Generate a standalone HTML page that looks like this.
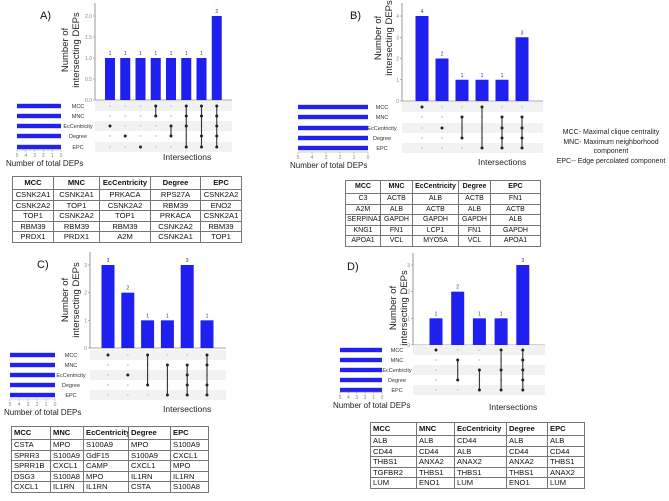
<!DOCTYPE html>
<html><head><meta charset="utf-8">
<style>
body{margin:0;background:#fff;width:669px;height:501px;overflow:hidden;position:relative;font-family:"Liberation Sans",sans-serif}
svg{position:absolute;left:0;top:0}
table.t{position:absolute;border-collapse:collapse;font-family:"Liberation Sans",sans-serif;font-size:7.6px;color:#111;table-layout:fixed}
table.t td{border:1px solid #777;padding:0 1px;white-space:nowrap;overflow:hidden;line-height:9.6px;height:9.6px}
table.t tr:first-child td{font-weight:bold;height:12px}
table.c td{text-align:center}
table.l td{text-align:left;padding-left:2px}
</style></head>
<body>
<svg id="fig" width="669" height="501" viewBox="0 0 669 501"></svg>

<table class="t c" style="left:12px;top:176px;width:229px">
<colgroup><col style="width:41px"><col style="width:46px"><col style="width:51px"><col style="width:50px"><col style="width:41px"></colgroup>
<tr><td>MCC</td><td>MNC</td><td>EcCentricity</td><td>Degree</td><td>EPC</td></tr>
<tr><td>CSNK2A1</td><td>CSNK2A1</td><td>PRKACA</td><td>RPS27A</td><td>CSNK2A2</td></tr>
<tr><td>CSNK2A2</td><td>TOP1</td><td>CSNK2A2</td><td>RBM39</td><td>ENO2</td></tr>
<tr><td>TOP1</td><td>CSNK2A2</td><td>TOP1</td><td>PRKACA</td><td>CSNK2A1</td></tr>
<tr><td>RBM39</td><td>RBM39</td><td>RBM39</td><td>CSNK2A2</td><td>RBM39</td></tr>
<tr><td>PRDX1</td><td>PRDX1</td><td>A2M</td><td>CSNK2A1</td><td>TOP1</td></tr>
</table>

<table class="t c" style="left:345px;top:180px;width:195px;font-size:7px">
<colgroup><col style="width:35px"><col style="width:32px"><col style="width:46px"><col style="width:32px"><col style="width:50px"></colgroup>
<tr><td>MCC</td><td>MNC</td><td>EcCentricity</td><td>Degree</td><td>EPC</td></tr>
<tr><td>C3</td><td>ACTB</td><td>ALB</td><td>ACTB</td><td>FN1</td></tr>
<tr><td>A2M</td><td>ALB</td><td>ACTB</td><td>ALB</td><td>ACTB</td></tr>
<tr><td>SERPINA1</td><td>GAPDH</td><td>GAPDH</td><td>GAPDH</td><td>ALB</td></tr>
<tr><td>KNG1</td><td>FN1</td><td>LCP1</td><td>FN1</td><td>GAPDH</td></tr>
<tr><td>APOA1</td><td>VCL</td><td>MYO5A</td><td>VCL</td><td>APOA1</td></tr>
</table>

<table class="t l" style="left:11px;top:426px;width:197px">
<colgroup><col style="width:39px"><col style="width:33px"><col style="width:45px"><col style="width:42px"><col style="width:38px"></colgroup>
<tr><td>MCC</td><td>MNC</td><td>EcCentricity</td><td>Degree</td><td>EPC</td></tr>
<tr><td>CSTA</td><td>MPO</td><td>S100A9</td><td>MPO</td><td>S100A9</td></tr>
<tr><td>SPRR3</td><td>S100A9</td><td>GdF15</td><td>S100A9</td><td>CXCL1</td></tr>
<tr><td>SPRR1B</td><td>CXCL1</td><td>CAMP</td><td>CXCL1</td><td>MPO</td></tr>
<tr><td>DSG3</td><td>S100A8</td><td>MPO</td><td>IL1RN</td><td>IL1RN</td></tr>
<tr><td>CXCL1</td><td>IL1RN</td><td>IL1RN</td><td>CSTA</td><td>S100A8</td></tr>
</table>

<table class="t l" style="left:370px;top:422px;width:214px">
<colgroup><col style="width:46px"><col style="width:38px"><col style="width:52px"><col style="width:41px"><col style="width:37px"></colgroup>
<tr><td>MCC</td><td>MNC</td><td>EcCentricity</td><td>Degree</td><td>EPC</td></tr>
<tr><td>ALB</td><td>ALB</td><td>CD44</td><td>ALB</td><td>ALB</td></tr>
<tr><td>CD44</td><td>CD44</td><td>ALB</td><td>CD44</td><td>CD44</td></tr>
<tr><td>THBS1</td><td>ANXA2</td><td>ANAX2</td><td>ANXA2</td><td>THBS1</td></tr>
<tr><td>TGFBR2</td><td>THBS1</td><td>THBS1</td><td>THBS1</td><td>ANAX2</td></tr>
<tr><td>LUM</td><td>ENO1</td><td>LUM</td><td>ENO1</td><td>LUM</td></tr>
</table>

<script>
// ---- data ----
const setNames = ["MCC","MNC","EcCentricity","Degree","EPC"];
const setSizesA = [5,5,5,5,5];
const setSizesB = [5,5,5,5,5];
const setSizesC = [5,5,5,5,5];
const setSizesD = [5,5,5,5,5];
const valuesA = [1,1,1,1,1,1,1,2];
const membersA = [[2],[3],[4],[0,1],[2,3],[0,1,2,4],[0,1,3,4],[0,1,2,3,4]];
const ticksA = [0,0.5,1,1.5,2];
const tickLabelsA = ["0.0","0.5","1.0","1.5","2.0"];
const valuesB = [4,2,1,1,1,3];
const membersB = [[0],[2],[1,3],[0,4],[1,2,3,4],[1,2,3,4]];
const ticksB = [0,1,2,3,4];
const tickLabelsB = ["0","1","2","3","4"];
const valuesC = [3,2,1,1,3,1];
const membersC = [[0],[2],[0,3],[1,4],[1,2,3,4],[0,1,3,4]];
const ticksC = [0,1,2,3];
const tickLabelsC = ["0","1","2","3"];
const valuesD = [1,2,1,1,3];
const membersD = [[0],[1,3],[2,4],[0,2,4],[0,1,2,3,4]];
const ticksD = [0,1,2,3];
const tickLabelsD = ["0","1","2","3"];
const sizeTickLabels = ["5","4","3","2","1","0"];

const NS="http://www.w3.org/2000/svg";
const svg=document.getElementById('fig');
function mk(tag,attrs,parent){const e=document.createElementNS(NS,tag);for(const k in attrs)e.setAttribute(k,attrs[k]);(parent||svg).appendChild(e);return e;}
function txt(s,attrs,parent){const e=mk('text',attrs,parent);e.textContent=s;return e;}

function panel(cfg,values,members,ticks,tickLabels,sizes){
  const g=mk('g',{});
  
  
  const yS=v=>cfg.base-(cfg.base-cfg.topY)*v/cfg.maxV;
  const xS=i=>cfg.x0+cfg.step*i;
  const pl=txt(cfg.id.toUpperCase()+')',{x:cfg.lx,y:cfg.ly,'font-size':11,fill:'#111'},g);
  
  
  mk('line',{x1:cfg.ax,y1:cfg.base,x2:cfg.ax,y2:cfg.axTop,stroke:'#555','stroke-width':0.6},g);
  mk('line',{x1:cfg.ax,y1:cfg.base,x2:cfg.mx2,y2:cfg.base,stroke:'#555','stroke-width':0.6},g);
  ticks.forEach((t,i)=>{
    const y=yS(t);
    mk('line',{x1:cfg.ax-2,y1:y,x2:cfg.ax,y2:y,stroke:'#777','stroke-width':0.5},g);
    const tl=txt(tickLabels[i],{x:cfg.ax-3,y:y+2,'font-size':5,'text-anchor':'end',fill:'#888'},g);
    
    
  });
  const yt=mk('text',{transform:`translate(${cfg.ytx},${cfg.yty}) rotate(-90)`,'font-size':9.5,'text-anchor':'middle',fill:'#222'},g);
  
  
  const t1=mk('tspan',{x:0,y:0},yt);t1.textContent='Number of';
  const t2=mk('tspan',{x:0,y:11},yt);t2.textContent='intersecting DEPs';
  cfg.rows.forEach((ry,i)=>{
    if(i%2===0){mk('rect',{x:cfg.ax,y:ry-5,width:cfg.mx2-cfg.ax,height:10,fill:'#f2f2f2'},g);}
    const lab=txt(setNames[i],{x:cfg.labX,y:ry+2,'font-size':5.5,'text-anchor':'middle',fill:'#333'},g);
    
    
    const w=(cfg.sbR-cfg.sbL)*sizes[i]/5;
    const sb=mk('rect',{x:cfg.sbR-w,y:ry-2.2,width:w,height:4.4,fill:'#2222ee'},g);
    
    
  });
  sizeTickLabels.forEach((s,i)=>{
    const x=cfg.sbL+(cfg.sbR-cfg.sbL)*i/5;
    mk('line',{x1:x,y1:cfg.sty-7,x2:x,y2:cfg.sty-5,stroke:'#888','stroke-width':0.4},g);
    txt(s,{x:x,y:cfg.sty,'font-size':5,'text-anchor':'middle',fill:'#888'},g);
  });
  mk('line',{x1:cfg.sbL,y1:cfg.sty-7,x2:cfg.sbR,y2:cfg.sty-7,stroke:'#888','stroke-width':0.4},g);
  const st=txt('Number of total DEPs',{x:cfg.stx,y:cfg.sty+9,'font-size':8,fill:'#222'},g);
  
  
  const it=txt('Intersections',{x:cfg.itx,y:cfg.ity,'font-size':8.5,fill:'#222'},g);
  
  
  values.forEach((v,i)=>{
    const x=xS(i), y=yS(v);
    const b=mk('rect',{x:x-cfg.bw/2,y:y,width:cfg.bw,height:cfg.base-y,fill:'#1f1ff0'},g);
    
    
    const vl=txt(String(v),{x:x,y:y-3,'font-size':5,'text-anchor':'middle',fill:'#2a2ab0'},g);
    
    
    const m=members[i];
    cfg.rows.forEach((ry,r)=>{ if(!m.includes(r)) mk('circle',{cx:x,cy:ry,r:1.1,fill:'#d8d8d8'},g); });
    if(m.length>1){
      const ys=m.map(r=>cfg.rows[r]);
      mk('line',{x1:x,y1:Math.min(...ys),x2:x,y2:Math.max(...ys),stroke:'#333','stroke-width':1.1},g);
    }
    m.forEach(r=>{const c=mk('circle',{cx:x,cy:cfg.rows[r],r:1.5,fill:'#222'},g);
      
      });
  });
}

panel({id:'a',lx:40,ly:19,ax:95,axTop:3,base:100,topY:16,maxV:2,x0:110,step:15.25,bw:10,mx2:232,
  rows:[106,116,126,136,147],labX:78,sbL:17,sbR:61,sty:157,stx:6,itx:163,ity:160,ytx:68,yty:50},
  valuesA,membersA,ticksA,tickLabelsA,setSizesA);
panel({id:'b',lx:350,ly:19,ax:402,axTop:3,base:101,topY:16,maxV:4,x0:422,step:20,bw:13,mx2:543,
  rows:[107,117,128,138,148],labX:382,sbL:298,sbR:368,sty:159,stx:290,itx:478,ity:165,ytx:381,yty:38},
  valuesB,membersB,ticksB,tickLabelsB,setSizesB);
panel({id:'c',lx:37,ly:268,ax:90,axTop:252,base:348,topY:265,maxV:3,x0:108,step:19.8,bw:13,mx2:226,
  rows:[355,365,375,385,395],labX:71,sbL:10,sbR:55,sty:406,stx:4,itx:163,ity:412,ytx:68,yty:300},
  valuesC,membersC,ticksC,tickLabelsC,setSizesC);
panel({id:'d',lx:347,ly:270,ax:413,axTop:253,base:345,topY:265,maxV:3,x0:436,step:21.7,bw:13,mx2:545,
  rows:[350,360,370,380,390],labX:397,sbL:340,sbR:382,sty:399,stx:333,itx:489,ity:410,ytx:396,yty:308},
  valuesD,membersD,ticksD,tickLabelsD,setSizesD);

const leg=mk('g',{});


[['MCC- Maximal clique centrality',134],['MNC- Maximum neighborhood',144],['component',153],['EPC-- Edge percolated component',163]].forEach(([s,y])=>{
  txt(s,{x:611,y:y,'font-size':7,'text-anchor':'middle',fill:'#222'},leg);
});
</script>
</body></html>
